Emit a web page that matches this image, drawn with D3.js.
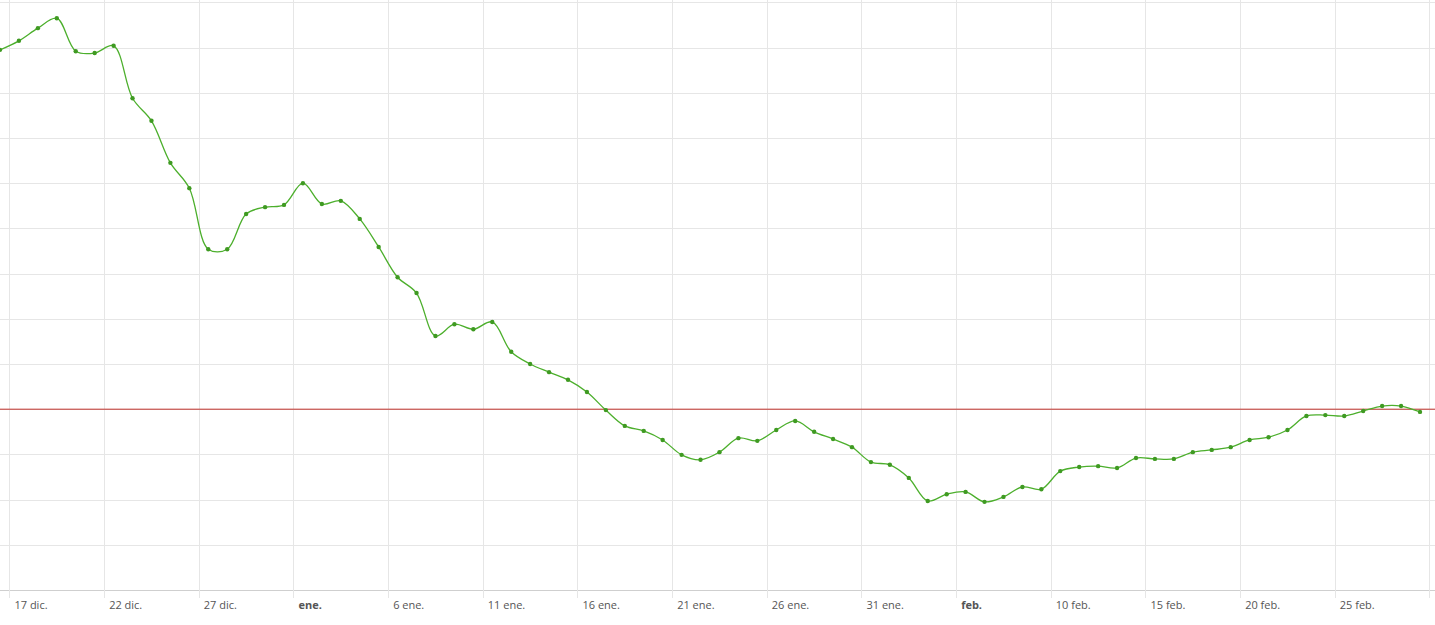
<!DOCTYPE html>
<html><head><meta charset="utf-8">
<script src="https://cdn.jsdelivr.net/npm/d3@7"></script>
<style>body{margin:0;background:#fff}svg{display:block}</style>
</head><body>
<svg width="1435" height="625"></svg>
<script>
// daily values, one per day starting mid-December
var values = [119.5,121.5,124.3,126.5,119.2,118.8,120.4,108.8,103.8,94.5,88.9,75.4,75.4,83.2,84.7,85.2,90.0,85.4,86.1,82.1,
  75.9,69.2,65.7,56.2,58.8,57.7,59.3,52.7,50.0,48.2,46.5,43.8,39.8,36.3,35.2,33.2,29.9,28.8,30.5,33.6,
  33.0,35.4,37.4,35.0,33.4,31.6,28.3,27.7,24.8,19.7,21.2,21.7,19.5,20.6,22.8,22.3,26.3,27.2,27.4,27.0,
  29.2,29.0,29.0,30.5,31.0,31.6,33.2,33.8,35.4,38.5,38.7,38.5,39.6,40.7,40.7,39.4];
var tickLabels = ["17 dic.","22 dic.","27 dic.","ene.","6 ene.","11 ene.","16 ene.","21 ene.","26 ene.","31 ene.","feb.","10 feb.","15 feb.","20 feb.","25 feb.",""];
var boldLabels = ["ene.","feb."];
var refValue = 40;

var svg = d3.select("svg"),
    plotTop = 2.4, plotBottom = 590;

var x = d3.scaleLinear().domain([0, values.length - 1]).range([0, 1420]),
    y = d3.scaleLinear().domain([0, 130]).range([plotBottom, plotTop]);

var tickPos = tickLabels.map(function(d, i) { return 0.5 + i * 5; });

// grid
svg.append("g").selectAll("line")
    .data(d3.range(0, 131, 10))
    .enter().append("line")
    .attr("x1", 0).attr("x2", 1435)
    .attr("y1", function(d) { return Math.round(y(d)) + 0.5; })
    .attr("y2", function(d) { return Math.round(y(d)) + 0.5; })
    .attr("stroke", function(d) { return d === 0 ? "#cfcfcf" : "#e6e6e6"; });

svg.append("g").selectAll("line")
    .data(tickPos)
    .enter().append("line")
    .attr("x1", function(d) { return Math.round(x(d)) + 0.5; })
    .attr("x2", function(d) { return Math.round(x(d)) + 0.5; })
    .attr("y1", 0).attr("y2", plotBottom + 8)
    .attr("stroke", "#e6e6e6");

// x labels
svg.append("g").selectAll("text")
    .data(tickLabels)
    .enter().append("text")
    .attr("x", function(d, i) { return x(tickPos[i]) + 5; })
    .attr("y", 609)
    .style("font", "11px 'Open Sans', sans-serif")
    .style("font-weight", function(d) { return boldLabels.indexOf(d) >= 0 ? "bold" : "normal"; })
    .attr("fill", "#555")
    .text(function(d) { return d; });

// reference line
svg.append("line")
    .attr("x1", 0).attr("x2", 1435)
    .attr("y1", y(refValue)).attr("y2", y(refValue))
    .attr("stroke", "#c0302a").attr("stroke-width", 1);

var line = d3.line()
    .x(function(d, i) { return x(i); })
    .y(function(d) { return y(d); })
    .curve(d3.curveCatmullRom);

svg.append("path")
    .datum(values)
    .attr("d", line)
    .attr("fill", "none")
    .attr("stroke", "#4caf2c")
    .attr("stroke-width", 1.3);

svg.append("g").selectAll("circle")
    .data(values)
    .enter().append("circle")
    .attr("cx", function(d, i) { return x(i); })
    .attr("cy", function(d) { return y(d); })
    .attr("r", 2.2)
    .attr("fill", "#3f9a22");
</script>
</body></html>
